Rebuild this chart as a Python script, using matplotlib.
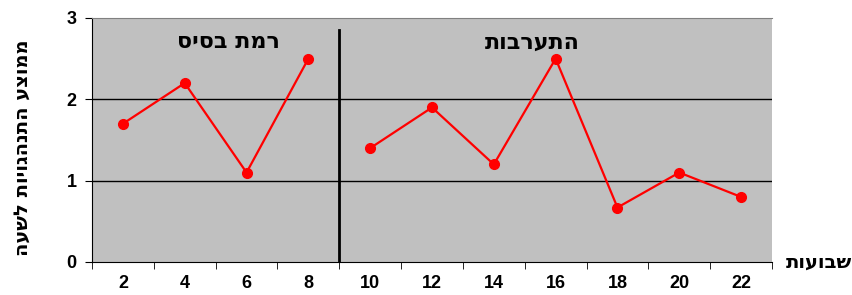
import matplotlib
matplotlib.use("Agg")
import matplotlib.pyplot as plt

weeks = [2, 4, 6, 8, 10, 12, 14, 16, 18, 20, 22]
baseline_vals = [1.7, 2.2, 1.1, 2.5]
intervention_vals = [1.4, 1.9, 1.2, 2.5, 0.67, 1.1, 0.8]
yticks = [0, 1, 2, 3]
ylabel = "ממוצע התנהגויות לשעה"
xlabel = "שבועות"
phase1 = "רמת בסיס"
phase2 = "התערבות"

def heb(s):
    return s[::-1]

plt.rcParams['font.family'] = ['Liberation Sans', 'DejaVu Sans']
plt.rcParams['font.weight'] = 'bold'
hebfont = ['DejaVu Sans']

fig = plt.figure(figsize=(8.52, 2.95), dpi=100)
ax = fig.add_axes([92/852, 1-262/295, 680/852, 244/295])
ax.set_facecolor('#C0C0C0')

n1 = len(baseline_vals)
x1 = list(range(n1))
x2 = list(range(n1, n1 + len(intervention_vals)))
ax.plot(x1, baseline_vals, color='#FF0000', lw=1.6, marker='o', ms=7, zorder=3)
ax.plot(x2, intervention_vals, color='#FF0000', lw=1.6, marker='o', ms=7, zorder=3)

ax.set_xlim(-0.5, len(weeks) - 0.5)
ax.set_ylim(0, 3)
ax.set_yticks(yticks)
ax.set_yticklabels([str(v) for v in yticks], fontsize=13, fontweight='bold')
ax.set_xticks(range(len(weeks)))
ax.set_xticklabels([str(w) for w in weeks], fontsize=13, fontweight='bold')
ax.set_xticks([i - 0.5 for i in range(len(weeks) + 1)], minor=True)
ax.tick_params(axis='x', which='major', length=0, pad=9)
ax.tick_params(axis='x', which='minor', length=5, direction='out', color='black')
ax.tick_params(axis='y', length=5, direction='out', pad=6)

for v in [1, 2]:
    ax.axhline(v, color='black', lw=1, zorder=1)

ax.plot([n1 - 0.5, n1 - 0.5], [0, 2.85], color='black', lw=2, zorder=2)

ax.spines['top'].set_color('#808080')
ax.spines['right'].set_visible(False)
ax.spines['left'].set_color('black')
ax.spines['bottom'].set_color('black')

ax.text(1.7, 2.7, heb(phase1), fontsize=16, fontweight='bold', ha='center', va='center', family=hebfont)
ax.text(6.62, 2.7, heb(phase2), fontsize=16, fontweight='bold', ha='center', va='center', family=hebfont)

fig.text(22/852, 1-148/295, heb(ylabel), rotation=90, fontsize=14, fontweight='bold',
         ha='center', va='center', family=hebfont)
fig.text(819/852, 1-262/295, heb(xlabel), fontsize=14, fontweight='bold',
         ha='center', va='center', family=hebfont)

fig.savefig("out.png", dpi=100)
